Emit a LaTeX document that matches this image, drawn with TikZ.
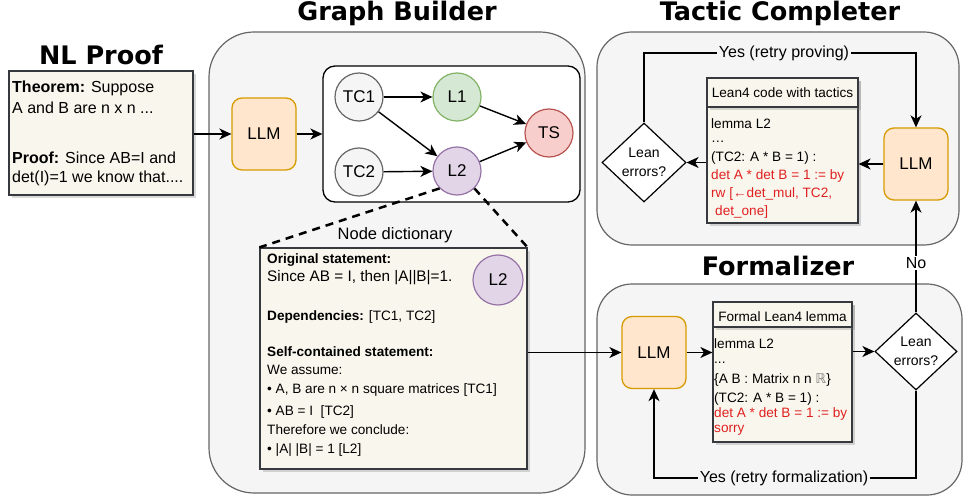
\documentclass[tikz,border=0pt]{standalone}
\usepackage{fontspec}
\setmainfont{Liberation Sans}
\newfontfamily\titlefont{DejaVu Sans}
\newfontfamily\symfont{DejaVu Sans}
\usetikzlibrary{arrows.meta,shapes.geometric,shadows}

\definecolor{panelfill}{HTML}{F5F5F5}
\definecolor{panelline}{HTML}{666666}
\definecolor{notefill}{HTML}{F9F7ED}
\definecolor{noteline}{HTML}{36393D}
\definecolor{llmfill}{HTML}{FFE6CC}
\definecolor{llmline}{HTML}{D79B00}
\definecolor{tcfill}{HTML}{F5F5F5}
\definecolor{tcline}{HTML}{666666}
\definecolor{lonefill}{HTML}{D5E8D4}
\definecolor{loneline}{HTML}{82B366}
\definecolor{ltwofill}{HTML}{E1D5E7}
\definecolor{ltwoline}{HTML}{9673A6}
\definecolor{tsfill}{HTML}{F8CECC}
\definecolor{tsline}{HTML}{B85450}
\definecolor{codered}{HTML}{E02020}

\newcommand\fs[1]{\fontsize{#1}{#1}\selectfont}

\tikzset{
  panel/.style={draw=panelline, fill=panelfill, line width=1.2pt, rounded corners=#1, inner sep=0pt},
  note/.style={draw=noteline, fill=notefill, line width=1.2pt, inner sep=0pt,
    drop shadow={opacity=0.3, shadow xshift=3pt, shadow yshift=-3pt}},
  llm/.style={draw=llmline, fill=llmfill, line width=1.3pt, rounded corners=10pt,
    minimum width=64pt, minimum height=72pt, inner sep=0pt, font=\fs{17}},
  gnode/.style 2 args={circle, draw=#2, fill=#1, line width=1.2pt, minimum size=48pt,
    inner sep=0pt, font=\fs{17}},
  decision/.style={diamond, draw=black, fill=white, line width=1.2pt, inner sep=0pt,
    align=center, font=\fontsize{14}{19}\selectfont},
  conn/.style={-{Stealth[length=12pt,width=11pt,inset=3.5pt]}, line width=1.4pt},
  heading/.style={font=\titlefont\bfseries\fs{25.5}, anchor=base, inner sep=0pt},
  txt/.style={anchor=base west, inner sep=0pt, font=\fs{13.6}},
  bigtxt/.style={anchor=base west, inner sep=0pt, font=\fs{15.3}},
  redtxt/.style={txt, text=codered},
  lbl/.style={fill=#1, inner sep=1.5pt, font=\fs{16}},
  dictlink/.style={dash pattern=on 8pt off 6pt, line width=2.5pt},
}

\begin{document}
\begin{tikzpicture}[x=1pt,y=-1pt]
\useasboundingbox (0,0) rectangle (966,497);

% ---------- panels ----------
\node[panel=45pt, minimum width=376pt, minimum height=461pt] (gbpanel) at (397,262.5) {};
\node[panel=35pt, minimum width=362pt, minimum height=213pt] (tcpanel) at (778,138.5) {};
\node[panel=35pt, minimum width=365pt, minimum height=211pt] (fmpanel) at (779.5,389.5) {};

% ---------- headings ----------
\node[heading] (hnl) at (101,65) {NL Proof};
\node[heading] (hgb) at (397,21) {Graph Builder};
\node[heading] (htc) at (780,21) {Tactic Completer};
\node[heading] (hfm) at (778,275) {Formalizer};

% ---------- NL proof ----------
\node[note, minimum width=184pt, minimum height=124pt] (nl) at (101,133) {};
\node[font=\fs{16}, anchor=base west, inner sep=0pt] (nla) at (12,93) {\textbf{Theorem:} Suppose};
\node[font=\fs{16}, anchor=base west, inner sep=0pt] (nlb) at (12,114) {A and B are n x n ...};
\node[font=\fs{16}, anchor=base west, inner sep=0pt] (nlc) at (12,164) {\textbf{Proof:} Since AB=I and};
\node[font=\fs{16}, anchor=base west, inner sep=0pt] (nld) at (12,183) {det(I)=1 we know that....};

% ---------- graph builder ----------
\node[llm] (gllm) at (264,134) {LLM};
\node[draw=black, fill=white, line width=1.3pt, rounded corners=12pt,
      minimum width=257pt, minimum height=136pt] (gbox) at (451.5,134) {};
\node[gnode={tcfill}{tcline}] (tc1) at (359,97) {TC1};
\node[gnode={tcfill}{tcline}] (tc2) at (359,172) {TC2};
\node[gnode={lonefill}{loneline}] (l1) at (457,97) {L1};
\node[gnode={ltwofill}{ltwoline}] (l2) at (457,171) {L2};
\node[gnode={tsfill}{tsline}] (ts) at (549,133) {TS};

\draw[conn] (nl.east |- gllm.west) -- (gllm.west);
\draw[conn] (gllm.east) -- (gbox.west);
\draw[conn] (tc1) -- (l1);
\draw[conn] (tc1) -- (l2);
\draw[conn] (tc2) -- (l2);
\draw[conn] (l1) -- (ts);
\draw[conn] (l2) -- (ts);

% node dictionary
\node[note, minimum width=267pt, minimum height=221pt] (dict) at (393.5,358.5) {};
\node[font=\fs{16.5}, anchor=base, inner sep=0pt] (dicttitle) at (395,240) {Node dictionary};
\draw[dictlink] (l2.south west) -- (dict.north west);
\draw[dictlink] (l2.south east) -- (dict.north east);
\node[gnode={ltwofill}{ltwoline}, minimum size=50pt] (dl2) at (498,280) {L2};

\node[txt] (da) at (267,263) {\textbf{Original statement:}};
\node[bigtxt] (db) at (267,281.5) {Since AB = I, then |A||B|=1.};
\node[txt] (dc) at (267,320) {\textbf{Dependencies:} [TC1, TC2]};
\node[txt] (dd) at (267,356.5) {\textbf{Self-contained statement:}};
\node[txt] (de) at (267,374) {We assume:};
\node[txt] (df) at (267,393) {• A, B are n × n square matrices [TC1]};
\node[txt] (dg) at (267,415) {• AB = I\ \ [TC2]};
\node[txt] (dh) at (267,434) {Therefore we conclude:};
\node[txt] (di) at (267,453) {• |A| |B| = 1 [L2]};

% ---------- formalizer ----------
\node[llm] (fllm) at (654,352.5) {LLM};
\node[note, minimum width=139pt, minimum height=140pt] (fbox) at (782.5,372) {};
\node[note, minimum width=139pt, minimum height=25pt] (fhead) at (782.5,314.5) {};
\node[txt, anchor=base] (fheadtxt) at (782.5,321) {Formal Lean4 lemma};
\node[txt] (fa) at (714,348) {lemma L2};
\node[txt] (fb) at (714,363) {...};
\node[txt] (fc) at (714,383) {\{A B : Matrix n n {\color{gray}\symfont ℝ}\}};
\node[txt] (fd) at (714,402) {(TC2: A * B = 1) :};
\node[redtxt] (fe) at (714,417) {det A * det B = 1 := by};
\node[redtxt] (ff) at (714,432) {sorry};
\node[decision, minimum width=82pt, minimum height=77pt] (fdia) at (916,351.5) {Lean\\errors?};

\draw[conn] (dict.east |- fllm.west) -- (fllm.west);
\draw[conn] (fllm.east) -- (fllm.east -| fbox.west);
\draw[conn] (fbox.east |- fdia.west) -- (fdia.west);
\draw[conn] (fdia.south) |- (784,478) node[lbl=panelfill] (retryf) {Yes (retry formalization)} -| (fllm.south);

% ---------- tactic completer ----------
\node[llm] (tllm) at (916,164) {LLM};
\node[note, minimum width=151pt, minimum height=145pt] (code) at (782.5,150.5) {};
\node[note, minimum width=151pt, minimum height=29pt] (chead) at (782.5,92.5) {};
\node[txt, anchor=base] (cheadtxt) at (782.5,98) {Lean4 code with tactics};
\node[txt] (ca) at (711,129) {lemma L2};
\node[txt] (cb) at (711,143) {…};
\node[txt] (cc) at (711,161.5) {(TC2: A * B = 1) :};
\node[redtxt] (cd) at (711,180) {det A * det B = 1 := by};
\node[redtxt] (ce) at (711,197) {rw [←det\_mul, TC2,};
\node[redtxt] (cf) at (715,215) {det\_one]};
\node[decision, minimum width=84pt, minimum height=79pt] (tdia) at (644,162.5) {Lean\\errors?};

\draw[conn] (tllm.west) -- (tllm.west -| code.east);
\draw[conn] (code.west |- tdia.east) -- (tdia.east);
\draw[conn] (tdia.north) |- (784,53) node[lbl=panelfill] (retryp) {Yes (retry proving)} -| (tllm.north);
\draw[conn] (fdia.north) -- node[lbl=white, pos=0.44] (nolbl) {No} (tllm.south);

\end{tikzpicture}
\end{document}
